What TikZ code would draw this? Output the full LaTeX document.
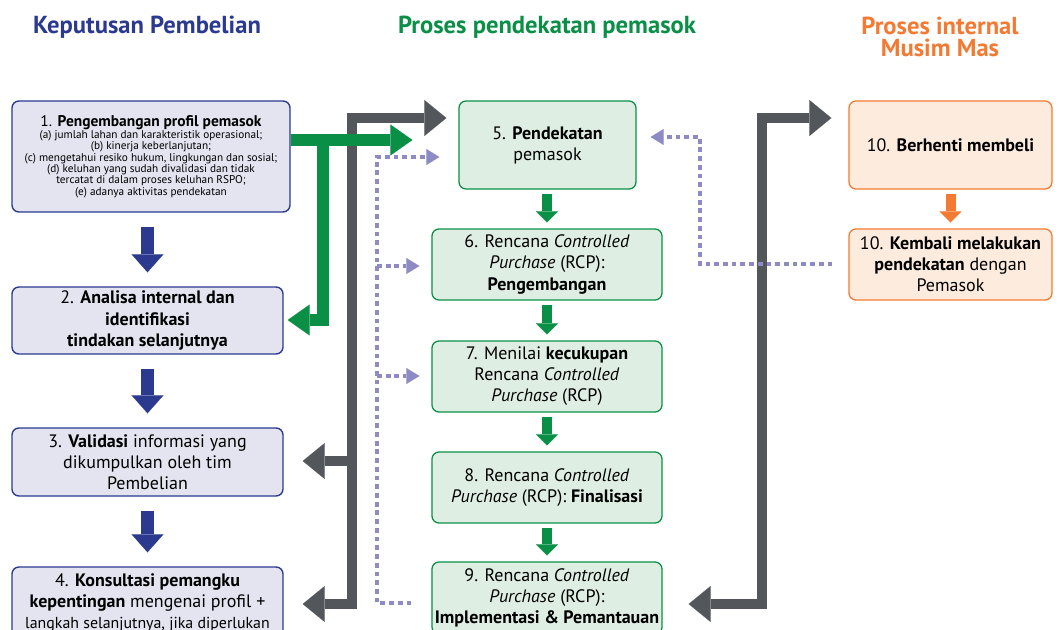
\documentclass[tikz,border=0pt]{standalone}
\usepackage{fontspec}
\setmainfont{PT Sans}
\usepackage{tikz}
\usetikzlibrary{arrows.meta, positioning, calc}
\definecolor{mynavy}{RGB}{43,58,143}
\definecolor{mygreen}{RGB}{10,143,71}
\definecolor{myorange}{RGB}{243,122,51}
\definecolor{mygrey}{RGB}{83,87,91}
\definecolor{mylav}{RGB}{142,139,196}
\definecolor{hdrnavy}{RGB}{228,228,240}
\definecolor{hdrgreen}{RGB}{223,238,226}
\definecolor{hdrorange}{RGB}{253,235,221}
\tikzset{
  bluebox/.style={rectangle, draw=mynavy, fill=hdrnavy, align=center,
    rounded corners=5pt, line width=1pt, inner sep=2pt,
    font=\fontsize{12.8}{15}\selectfont},
  greenbox/.style={rectangle, draw=mygreen, fill=hdrgreen, align=center,
    rounded corners=5pt, line width=0.9pt, inner sep=2pt,
    font=\fontsize{12.8}{15}\selectfont},
  orangebox/.style={rectangle, draw=myorange, fill=hdrorange, align=center,
    rounded corners=5pt, line width=0.9pt, inner sep=2pt,
    font=\fontsize{12.8}{15}\selectfont},
  header/.style={align=center, font=\fontsize{17.5}{16}\selectfont\bfseries},
  greytip/.tip={Triangle[width=25.5pt, length=15.6pt, line width=0.01pt]},
  greyline/.style={draw=mygrey, line width=7.8pt},
  greyarrow/.style={greyline, -greytip},
  greenbig/.style={draw=mygreen, line width=8.5pt,
    -{Triangle[width=22pt, length=15.6pt, line width=0.01pt]}},
  bluearrow/.style={draw=mynavy, line width=9.9pt,
    -{Triangle[width=22.7pt, length=12.8pt, line width=0.01pt]},
    shorten <=0.35cm, shorten >=0.35cm},
  smallstep/.style={line width=7.1pt,
    -{Triangle[width=15.6pt, length=7.8pt, line width=0.01pt]},
    shorten <=0.12cm, shorten >=0.15cm},
  dotarrow/.style={draw=mylav, line width=2.8pt, dash pattern=on 3.4pt off 2.8pt,
    -{Triangle[width=11.3pt, length=9.2pt, line width=0.01pt]}}
}
\begin{document}
\begin{tikzpicture}[x=0.025cm, y=-0.025cm]
  \useasboundingbox (0,0) rectangle (1060,630);
  \clip (0,0) rectangle (1060,630);
  % Column headers
  \node[header, text=mynavy] (hkep) at (147,27) {Keputusan Pembelian};
  \node[header, text=mygreen] (hpro) at (547,27) {Proses pendekatan pemasok};
  \node[header, text=myorange] (hint) at (940,37) {Proses internal\\Musim Mas};
  % Keputusan Pembelian
  \node[bluebox, minimum width=6.95cm, minimum height=2.775cm,
    font=\fontsize{8}{8.1}\selectfont] (prof) at (151,156.5)
    {{\fontsize{11}{11}\selectfont 1. \textbf{Pengembangan profil pemasok}}\\[0.5pt]
     (a) jumlah lahan dan karakteristik operasional;\\
     (b) kinerja keberlanjutan;\\
     (c) mengetahui resiko hukum, lingkungan dan sosial;\\
     (d) keluhan yang sudah divalidasi dan tidak\\
     tercatat di dalam proses keluhan RSPO;\\
     (e) adanya aktivitas pendekatan};
  \node[bluebox, minimum width=6.775cm, minimum height=1.675cm] (analisa) at (147.5,320.5)
    {2. \textbf{Analisa internal dan}\\\textbf{identifikasi}\\\textbf{tindakan selanjutnya}};
  \node[bluebox, minimum width=6.775cm, minimum height=1.7cm] (validasi) at (147.5,462)
    {3. \textbf{Validasi} informasi yang\\dikumpulkan oleh tim\\Pembelian};
  \node[bluebox, minimum width=6.775cm, minimum height=1.8cm, inner xsep=0pt] (konsul) at (147.5,603)
    {4. \textbf{Konsultasi pemangku}\\\textbf{kepentingan} mengenai profil +\\
     {\fontsize{11.3}{13}\selectfont langkah selanjutnya, jika diperlukan}};
  % Proses pendekatan pemasok
  \node[greenbox, minimum width=4.425cm, minimum height=2.2cm] (pendekatan) at (547.5,145)
    {5. \textbf{Pendekatan}\\pemasok};
  \node[greenbox, minimum width=5.75cm, minimum height=1.775cm] (rcpdev) at (547,264.5)
    {6. Rencana \textit{Controlled}\\\textit{Purchase} (RCP):\\\textbf{Pengembangan}};
  \node[greenbox, minimum width=5.75cm, minimum height=1.775cm] (rcpcek) at (547,376.5)
    {7. Menilai \textbf{kecukupan}\\Rencana \textit{Controlled}\\\textit{Purchase} (RCP)};
  \node[greenbox, minimum width=5.75cm, minimum height=1.775cm] (rcpfin) at (547,487.5)
    {8. Rencana \textit{Controlled}\\\textit{Purchase} (RCP): \textbf{Finalisasi}};
  \node[greenbox, minimum width=5.75cm, minimum height=1.8cm] (rcpimpl) at (547,598)
    {9. Rencana \textit{Controlled}\\\textit{Purchase} (RCP):\\\textbf{Implementasi \& Pemantauan}};
  % Proses internal
  \node[orangebox, minimum width=5.075cm, minimum height=2.2cm] (stopbuy) at (950.5,145)
    {10. \textbf{Berhenti membeli}};
  \node[orangebox, minimum width=5.075cm, minimum height=1.775cm] (kembali) at (950.5,264.5)
    {10. \textbf{Kembali melakukan}\\\textbf{pendekatan} dengan\\Pemasok};
  % Bus joints
  \coordinate (lbtop) at (352,118);
  \coordinate (lbmid) at (352,461);
  \coordinate (lbbot) at (352,604);
  \coordinate (rbtop) at (762,118);
  \coordinate (rbbot) at (762,604);
  \coordinate (gsplit) at (323,140);
  \coordinate (gturn) at (323,320);
  \coordinate (dltop) at (377,157);
  \coordinate (dl6) at (377,266);
  \coordinate (dl7) at (377,376);
  \coordinate (dlbot) at (377,603);
  \coordinate (drlow) at (700,264);
  \coordinate (drtop) at (700,137);
  % Grey buses
  \draw[greyline, greytip-greytip, shorten <=0.475cm, shorten >=0.3cm]
    (konsul.east |- lbbot) -- (lbbot) -- (lbtop) -- (pendekatan.west |- lbtop);
  \draw[greyarrow, shorten >=0.475cm] (lbmid) -- (validasi.east |- lbmid);
  \draw[greyline, greytip-greytip, shorten <=0.65cm, shorten >=0.425cm]
    (rcpimpl.east |- rbbot) -- (rbbot) -- (rbtop) -- (stopbuy.west |- rbtop);
  % Green split
  \draw[greenbig, shorten >=1.15cm] (prof.east |- gsplit) -- (pendekatan.west |- gsplit);
  \draw[greenbig, shorten >=0.1cm] (prof.east |- gsplit) -- (gsplit) -- (gturn) -- (analisa.east |- gturn);
  % Dotted feedback
  \draw[dotarrow, shorten <=0.5cm, shorten >=0.475cm]
    (rcpimpl.west |- dlbot) -- (dlbot) -- (dltop) -- (pendekatan.west |- dltop);
  \draw[dotarrow, shorten >=0.3cm] (dl6) -- (rcpdev.west |- dl6);
  \draw[dotarrow, shorten >=0.3cm] (dl7) -- (rcpcek.west |- dl7);
  \draw[dotarrow, shorten <=0.4cm, shorten >=0.35cm]
    (kembali.west |- drlow) -- (drlow) -- (drtop) -- (pendekatan.east |- drtop);
  % Step arrows
  \draw[bluearrow] (prof.south -| analisa.north) -- (analisa.north);
  \draw[bluearrow] (analisa.south) -- (validasi.north);
  \draw[bluearrow] (validasi.south) -- (konsul.north);
  \draw[smallstep, draw=mygreen] (pendekatan.south -| rcpdev.north) -- (rcpdev.north);
  \draw[smallstep, draw=mygreen] (rcpdev.south) -- (rcpcek.north);
  \draw[smallstep, draw=mygreen] (rcpcek.south) -- (rcpfin.north);
  \draw[smallstep, draw=mygreen] (rcpfin.south) -- (rcpimpl.north);
  \draw[smallstep, draw=myorange] (stopbuy.south) -- (kembali.north);
\end{tikzpicture}
\end{document}
